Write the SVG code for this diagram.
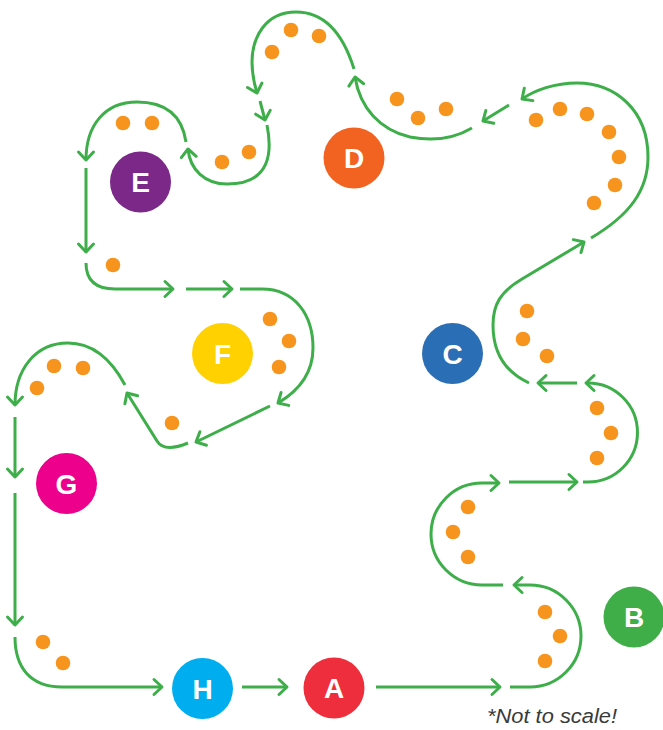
<svg xmlns="http://www.w3.org/2000/svg" width="663" height="730" viewBox="0 0 663 730">
<style>
.c{fill:none;stroke:#3DAE49;stroke-width:3;stroke-linecap:butt;stroke-linejoin:round}
.a{marker-end:url(#ah)}
.d{fill:#F7941D}
.lbl{font-family:"Liberation Sans",Arial,sans-serif;font-weight:bold;font-size:28px;fill:#ffffff;text-anchor:middle}
.note{font-family:"Liberation Sans",Arial,sans-serif;font-style:italic;font-size:20px;fill:#3a3a3a}
</style>
<defs>
<marker id="ah" viewBox="-12 -12 24 24" markerWidth="24" markerHeight="24" refX="0" refY="0" orient="auto" markerUnits="userSpaceOnUse">
<path d="M -8 -7.5 L 0 0 L -8 7.5" fill="none" stroke="#3DAE49" stroke-width="3" stroke-linecap="round" stroke-linejoin="round"/>
</marker>
</defs>
<rect width="663" height="730" fill="#ffffff"/>
<g id="connectors">
<path class="c a" d="M 376 687 H 500"/>
<path class="c a" d="M 510 687 H 530 A 51 51 0 0 0 530 585 H 514"/>
<path class="c a" d="M 503 585 H 482 A 51 51 0 0 1 482 483 H 499"/>
<path class="c a" d="M 509 482 H 577"/>
<path class="c a" d="M 583 482 H 588 A 49.5 49.5 0 0 0 588 383 H 586"/>
<path class="c a" d="M 577 383 H 538"/>
<path class="c a" d="M 529 383 C 505 372 493 352 493 325 C 493 305 500 292 522 279 L 584 242"/>
<path class="c a" d="M 591 238 C 630 215 648 190 648 157 C 648 110 615 83 577 83 C 555 83 535 90 522 99"/>
<path class="c a" d="M 509 105 L 483 121"/>
<path class="c a" d="M 472 128 C 455 138 435 142 410 137 C 380 130 360 108 355 77"/>
<path class="c a" d="M 354 69 C 345 40 328 12 296 12 C 265 12 252 38 252 62 C 252 72 254 83 257 93"/>
<path class="c a" d="M 260 101 L 265 120"/>
<path class="c a" d="M 267 125 C 272 150 272 184 227 184 C 205 184 190 170 188 149"/>
<path class="c a" d="M 186 142 C 182 115 165 102 137 102 C 105 102 86 125 86 160"/>
<path class="c a" d="M 86 168 V 252"/>
<path class="c a" d="M 86 263 C 86 280 95 289 115 289 H 173"/>
<path class="c a" d="M 186 289 H 232"/>
<path class="c a" d="M 240 289 H 262 C 295 289 313 315 313 348 C 313 372 300 390 278 403"/>
<path class="c a" d="M 270 406 L 196 442"/>
<path class="c a" d="M 188 443 C 176 448 163 451 157 441 L 127 393"/>
<path class="c a" d="M 125 385 C 110 357 92 343 68 343 C 35 343 15 370 15 405"/>
<path class="c a" d="M 15 417 V 477"/>
<path class="c a" d="M 15 493 V 625"/>
<path class="c a" d="M 15 637 C 15 667 30 687 62 687 H 162"/>
<path class="c a" d="M 242 687 H 287"/>
</g>
<g id="dots">
<circle class="d" cx="545" cy="612" r="7.3"/><circle class="d" cx="560" cy="636" r="7.3"/><circle class="d" cx="545" cy="661" r="7.3"/>
<circle class="d" cx="468" cy="507" r="7.3"/><circle class="d" cx="453" cy="532" r="7.3"/><circle class="d" cx="468" cy="557" r="7.3"/>
<circle class="d" cx="597" cy="408" r="7.3"/><circle class="d" cx="611" cy="433" r="7.3"/><circle class="d" cx="597" cy="458" r="7.3"/>
<circle class="d" cx="527" cy="311" r="7.3"/><circle class="d" cx="523" cy="339" r="7.3"/><circle class="d" cx="547" cy="356" r="7.3"/>
<circle class="d" cx="536" cy="120" r="7.3"/><circle class="d" cx="560" cy="109" r="7.3"/><circle class="d" cx="587" cy="114" r="7.3"/><circle class="d" cx="609" cy="132" r="7.3"/><circle class="d" cx="619" cy="157" r="7.3"/><circle class="d" cx="615" cy="185" r="7.3"/><circle class="d" cx="594" cy="203" r="7.3"/>
<circle class="d" cx="397" cy="99" r="7.3"/><circle class="d" cx="418" cy="118" r="7.3"/><circle class="d" cx="446" cy="109" r="7.3"/>
<circle class="d" cx="272" cy="52" r="7.3"/><circle class="d" cx="291" cy="30" r="7.3"/><circle class="d" cx="319" cy="36" r="7.3"/>
<circle class="d" cx="222" cy="162" r="7.3"/><circle class="d" cx="249" cy="152" r="7.3"/>
<circle class="d" cx="123" cy="123" r="7.3"/><circle class="d" cx="152" cy="123" r="7.3"/>
<circle class="d" cx="113" cy="265" r="7.3"/>
<circle class="d" cx="270" cy="319" r="7.3"/><circle class="d" cx="289" cy="341" r="7.3"/><circle class="d" cx="279" cy="367" r="7.3"/>
<circle class="d" cx="172" cy="423" r="7.3"/>
<circle class="d" cx="37" cy="388" r="7.3"/><circle class="d" cx="54" cy="366" r="7.3"/><circle class="d" cx="83" cy="368" r="7.3"/>
<circle class="d" cx="43" cy="642" r="7.3"/><circle class="d" cx="63" cy="663" r="7.3"/>
</g>
<g id="node-A"><circle cx="334" cy="688" r="30.5" fill="#EE2E3C"/><text class="lbl" x="334" y="698">A</text></g>
<g id="node-B"><circle cx="634" cy="617" r="30.5" fill="#3FAE49"/><text class="lbl" x="634" y="627">B</text></g>
<g id="node-C"><circle cx="452.5" cy="353.5" r="30.5" fill="#2A6EB5"/><text class="lbl" x="452.5" y="363.5">C</text></g>
<g id="node-D"><circle cx="354" cy="158" r="30.5" fill="#F26322"/><text class="lbl" x="354" y="168">D</text></g>
<g id="node-E"><circle cx="140.5" cy="182" r="30.5" fill="#7B2889"/><text class="lbl" x="140.5" y="192">E</text></g>
<g id="node-F"><circle cx="222.5" cy="353.5" r="30.5" fill="#FFD100"/><text class="lbl" x="222.5" y="363.5">F</text></g>
<g id="node-G"><circle cx="66.5" cy="483.5" r="30.5" fill="#EC008C"/><text class="lbl" x="66.5" y="493.5">G</text></g>
<g id="node-H"><circle cx="202.5" cy="688.5" r="30.5" fill="#00AEEF"/><text class="lbl" x="202.5" y="698.5">H</text></g>
<text class="note" x="487" y="723" textLength="130" lengthAdjust="spacingAndGlyphs">*Not to scale!</text>
</svg>
